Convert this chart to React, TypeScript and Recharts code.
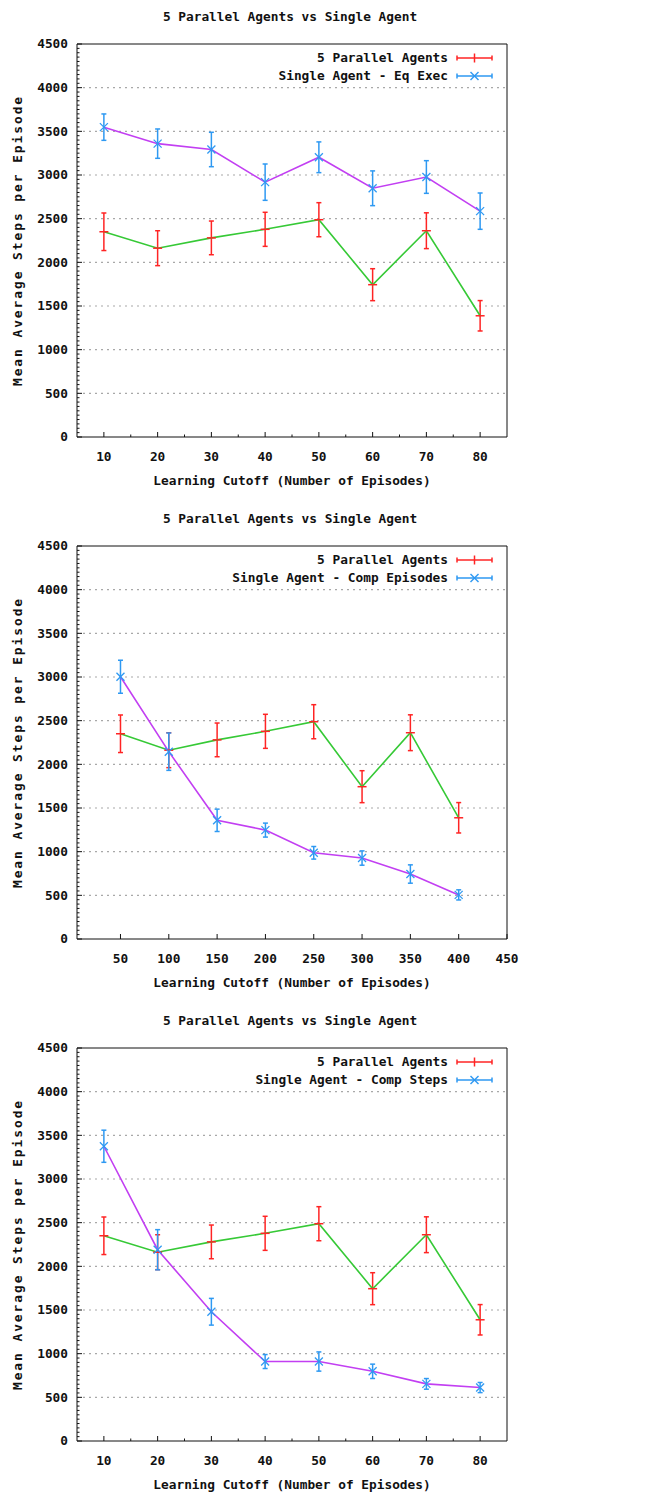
import { ComposedChart, Line, ErrorBar, XAxis, YAxis, CartesianGrid, Legend } from 'recharts';

const FONT = '"DejaVu Sans Mono", "Liberation Mono", monospace';
const RED = '#ff2424';
const GREEN = '#36c936';
const BLUE = '#2e99f2';
const MAGENTA = '#c23ff2';
const INK = '#111';

// learning cutoffs (episodes)
const cutoffs = [10, 20, 30, 40, 50, 60, 70, 80];
const cutoffsEpisodes = [50, 100, 150, 200, 250, 300, 350, 400];

// 5 parallel agents (same in all three panels)
const parallelMean = [2350, 2162, 2280, 2378, 2488, 1744, 2362, 1388];
const parallelErr = [215, 200, 193, 195, 195, 183, 205, 174];

// single agent variants
const eqExecMean = [3548, 3359, 3292, 2918, 3203, 2848, 2977, 2586];
const eqExecErr = [151, 168, 197, 208, 176, 199, 187, 208];
const compEpisodesMean = [3003, 2145, 1359, 1247, 987, 927, 744, 505];
const compEpisodesErr = [189, 214, 128, 80, 72, 82, 105, 58];
const compStepsMean = [3375, 2190, 1480, 910, 910, 798, 654, 612];
const compStepsErr = [184, 230, 153, 80, 110, 82, 61, 58];

// ticks
const yTicks = [0, 500, 1000, 1500, 2000, 2500, 3000, 3500, 4000, 4500];
const gridValues = [500, 1000, 1500, 2000, 2500, 3000, 3500, 4000];
const xTicksCutoff = [10, 20, 30, 40, 50, 60, 70, 80];
const xMinorCutoff = [15, 25, 35, 45, 55, 65, 75];
const xTicksEpisodes = [50, 100, 150, 200, 250, 300, 350, 400, 450];

const yMinor = yTicks.slice(0, -1).flatMap((t) => [50, 100, 150, 200, 250, 300, 350, 400, 450].map((d) => t + d));

const textStyle = { fontFamily: FONT, fontSize: 12.8, fontWeight: 700, fill: INK } as const;

type Side = 'left' | 'right' | 'top' | 'bottom';

const makeTick = (side: Side, majors: number[], labelled: boolean) => (props: any) => {
  const { x, y, payload } = props;
  const v = payload.value;
  const major = majors.includes(v);
  const len = major ? 5 : 2.5;
  let line = null;
  if (side === 'left') line = <line x1={x} y1={y} x2={x + len} y2={y} stroke={INK} />;
  if (side === 'right') line = <line x1={x} y1={y} x2={x - len} y2={y} stroke={INK} />;
  if (side === 'bottom') line = <line x1={x} y1={y} x2={x} y2={y - len} stroke={INK} />;
  if (side === 'top') line = <line x1={x} y1={y} x2={x} y2={y + len} stroke={INK} />;
  let label = null;
  if (labelled && major) {
    if (side === 'left')
      label = (
        <text x={x - 9} y={y} dy="0.35em" textAnchor="end" {...textStyle}>
          {v}
        </text>
      );
    if (side === 'bottom')
      label = (
        <text x={x} y={y + 20} dy="0.35em" textAnchor="middle" {...textStyle}>
          {v}
        </text>
      );
  }
  return (
    <g>
      {line}
      {label}
    </g>
  );
};

const ParallelDot = (props: any) => {
  const { cx, cy } = props;
  if (cx == null || cy == null) return <g />;
  return <line x1={cx - 4.5} y1={cy} x2={cx + 4.5} y2={cy} stroke={RED} strokeWidth={1.5} />;
};

const SingleDot = (props: any) => {
  const { cx, cy } = props;
  if (cx == null || cy == null) return <g />;
  const s = 4;
  return (
    <g stroke={BLUE} strokeWidth={1.3}>
      <line x1={cx - s} y1={cy - s} x2={cx + s} y2={cy + s} />
      <line x1={cx - s} y1={cy + s} x2={cx + s} y2={cy - s} />
    </g>
  );
};

function LegendBox({ singleLabel }: { singleLabel: string }) {
  const rows = [
    { label: '5 Parallel Agents', color: RED, cross: false },
    { label: singleLabel, color: BLUE, cross: true },
  ];
  return (
    <svg width={310} height={40}>
      {rows.map((r, i) => {
        const y = 10 + i * 18;
        const x0 = 265;
        const x1 = 300;
        const xm = (x0 + x1) / 2;
        return (
          <g key={r.label}>
            <text x={256} y={y} dy="0.35em" textAnchor="end" {...textStyle}>
              {r.label}
            </text>
            <g stroke={r.color} strokeWidth={1.5}>
              <line x1={x0} y1={y} x2={x1} y2={y} />
              <line x1={x0} y1={y - 2.5} x2={x0} y2={y + 2.5} />
              <line x1={x1} y1={y - 2.5} x2={x1} y2={y + 2.5} />
              {r.cross ? (
                <>
                  <line x1={xm - 4} y1={y - 4} x2={xm + 4} y2={y + 4} />
                  <line x1={xm - 4} y1={y + 4} x2={xm + 4} y2={y - 4} />
                </>
              ) : (
                <line x1={xm} y1={y - 4.5} x2={xm} y2={y + 4.5} />
              )}
            </g>
          </g>
        );
      })}
    </svg>
  );
}

interface PanelProps {
  xs: number[];
  single: number[];
  singleErr: number[];
  singleLabel: string;
  xDomain: [number, number];
  xTicks: number[];
  xMinor: number[];
}

function Panel({ xs, single, singleErr, singleLabel, xDomain, xTicks, xMinor }: PanelProps) {
  const data = xs.map((x, i) => ({
    x,
    par: parallelMean[i],
    parErr: parallelErr[i],
    single: single[i],
    singleErr: singleErr[i],
  }));
  const xAll = [...xTicks, ...xMinor].sort((a, b) => a - b);
  const yAll = [...yTicks, ...yMinor].sort((a, b) => a - b);

  return (
    <ComposedChart width={660} height={502} data={data} margin={{ top: 43, right: 152, bottom: 64, left: 0 }}>
      <CartesianGrid vertical={false} horizontalValues={gridValues} stroke="#a8a8a8" strokeDasharray="2 4" strokeWidth={1.2} />
      <XAxis
        dataKey="x"
        type="number"
        domain={xDomain}
        ticks={xAll}
        interval={0}
        height={1}
        tickSize={0}
        tickMargin={0}
        axisLine={{ stroke: INK }}
        tickLine={false}
        tick={makeTick('bottom', xTicks, true)}
        label={{
          content: (p: any) => (
            <text
              x={p.viewBox.x + p.viewBox.width / 2}
              y={p.viewBox.y + 44}
              dy="0.35em"
              textAnchor="middle"
              {...textStyle}
            >
              Learning Cutoff (Number of Episodes)
            </text>
          ),
        }}
      />
      <XAxis
        xAxisId="top"
        orientation="top"
        type="number"
        domain={xDomain}
        ticks={xAll}
        interval={0}
        height={1}
        tickSize={0}
        tickMargin={0}
        axisLine={{ stroke: INK }}
        tickLine={false}
        tick={makeTick('top', xTicks, false)}
        label={{
          content: (p: any) => (
            <text
              x={p.viewBox.x + p.viewBox.width / 2 - 2}
              y={p.viewBox.y - 26}
              dy="0.35em"
              textAnchor="middle"
              {...textStyle}
            >
              5 Parallel Agents vs Single Agent
            </text>
          ),
        }}
      />
      <YAxis
        type="number"
        domain={[0, 4500]}
        ticks={yAll}
        interval={0}
        width={77}
        tickSize={0}
        tickMargin={0}
        axisLine={{ stroke: INK }}
        tickLine={false}
        tick={makeTick('left', yTicks, true)}
        label={{
          content: (p: any) => {
            const cx = 18;
            const cy = p.viewBox.y + p.viewBox.height / 2;
            return (
              <text
                x={cx}
                y={cy}
                dy="0.35em"
                textAnchor="middle"
                transform={`rotate(-90 ${cx} ${cy})`}
                letterSpacing={2}
                {...textStyle}
              >
                Mean Average Steps per Episode
              </text>
            );
          },
        }}
      />
      <YAxis
        yAxisId="right"
        orientation="right"
        type="number"
        domain={[0, 4500]}
        ticks={yAll}
        interval={0}
        width={1}
        tickSize={0}
        tickMargin={0}
        axisLine={{ stroke: INK }}
        tickLine={false}
        tick={makeTick('right', yTicks, false)}
      />
      <Legend
        layout="vertical"
        align="center"
        verticalAlign="middle"
        wrapperStyle={{ left: 192, top: 48, width: 310, height: 40 }}
        content={() => <LegendBox singleLabel={singleLabel} />}
      />
      <Line
        dataKey="par"
        name="5 Parallel Agents"
        stroke={GREEN}
        strokeWidth={1.6}
        dot={ParallelDot}
        activeDot={false}
        isAnimationActive={false}
      >
        <ErrorBar dataKey="parErr" width={2.5} stroke={RED} strokeWidth={1.5} direction="y" />
      </Line>
      <Line
        dataKey="single"
        name={singleLabel}
        stroke={MAGENTA}
        strokeWidth={1.6}
        dot={SingleDot}
        activeDot={false}
        isAnimationActive={false}
      >
        <ErrorBar dataKey="singleErr" width={2.5} stroke={BLUE} strokeWidth={1.5} direction="y" />
      </Line>
    </ComposedChart>
  );
}

export default function App() {
  return (
    <div style={{ position: 'absolute', left: 0, top: 0, width: 660, height: 1497, overflow: 'hidden', background: '#fff' }}>
      <Panel
        xs={cutoffs}
        single={eqExecMean}
        singleErr={eqExecErr}
        singleLabel="Single Agent - Eq Exec"
        xDomain={[5, 85]}
        xTicks={xTicksCutoff}
        xMinor={xMinorCutoff}
      />
      <Panel
        xs={cutoffsEpisodes}
        single={compEpisodesMean}
        singleErr={compEpisodesErr}
        singleLabel="Single Agent - Comp Episodes"
        xDomain={[5, 450]}
        xTicks={xTicksEpisodes}
        xMinor={[]}
      />
      <Panel
        xs={cutoffs}
        single={compStepsMean}
        singleErr={compStepsErr}
        singleLabel="Single Agent - Comp Steps"
        xDomain={[5, 85]}
        xTicks={xTicksCutoff}
        xMinor={xMinorCutoff}
      />
    </div>
  );
}
